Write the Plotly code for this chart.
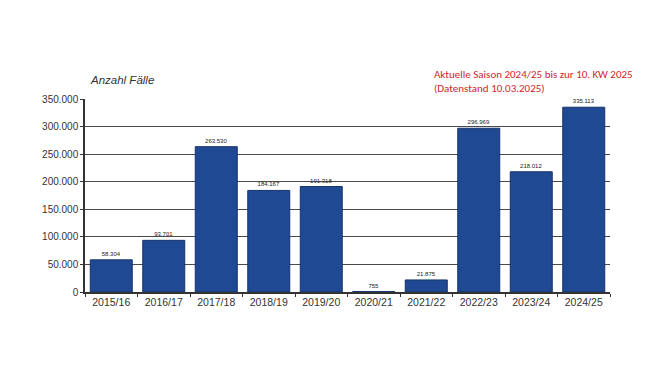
import plotly.graph_objects as go

seasons = ["2015/16", "2016/17", "2017/18", "2018/19", "2019/20",
           "2020/21", "2021/22", "2022/23", "2023/24", "2024/25"]
cases = [58304, 93701, 263530, 184167, 191318, 755, 21875, 296969, 218012, 335113]
y_ticks = [0, 50000, 100000, 150000, 200000, 250000, 300000, 350000]
y_tick_labels = ["0", "50.000", "100.000", "150.000", "200.000", "250.000", "300.000", "350.000"]

def de_fmt(v):
    return f"{v:,}".replace(",", ".")

fig = go.Figure()
fig.add_trace(go.Bar(
    x=seasons, y=cases,
    marker=dict(color="#1f4993", line=dict(color="#16336c", width=1)),
    text=[de_fmt(v) for v in cases],
    textposition="outside",
    textfont=dict(size=6, color="#222", family="Arial, Liberation Sans, sans-serif"),
    cliponaxis=False,
))

fig.update_layout(
    width=650, height=366,
    margin=dict(l=77, r=48, t=91, b=82),
    paper_bgcolor="white", plot_bgcolor="white",
    bargap=0.2,
    showlegend=False,
    font=dict(family="Arial, Liberation Sans, sans-serif", color="#333"),
    xaxis=dict(
        type="category",
        showline=True, linecolor="#333", linewidth=1.5,
        ticks="outside", tickson="boundaries", ticklen=3, tickcolor="#333",
        tickfont=dict(size=10.5, color="#333"),
        showgrid=False,
    ),
    yaxis=dict(
        range=[0, 350000],
        tickvals=y_ticks, ticktext=y_tick_labels,
        showline=True, linecolor="#333", linewidth=1.5,
        ticks="outside", ticklen=3, tickcolor="#333",
        tickfont=dict(size=10, color="#333"),
        showgrid=True, gridcolor="#4a4a4a", gridwidth=1.3,
        zeroline=False,
    ),
    annotations=[
        dict(text="<i>Anzahl Fälle</i>", xref="paper", yref="paper",
             x=0.005, y=1.055, xanchor="left", yanchor="bottom", showarrow=False,
             font=dict(size=11.5, color="#333")),
        dict(text="Aktuelle Saison 2024/25 bis zur 10. KW 2025<br>(Datenstand 10.03.2025)",
             xref="paper", yref="paper", x=0.66, y=1.01, xanchor="left", yanchor="bottom",
             align="left", showarrow=False,
             font=dict(size=11, color="#cc1f2a", family="Carlito, Liberation Sans, sans-serif")),
    ],
)

fig.write_html("out.html")
